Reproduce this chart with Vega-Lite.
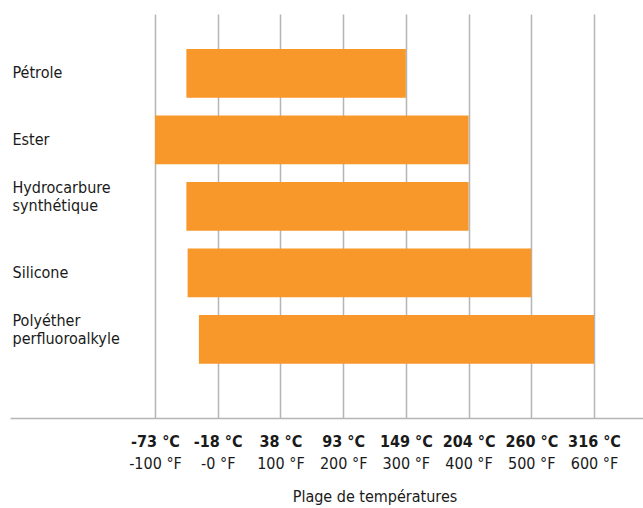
{
  "$schema": "https://vega.github.io/schema/vega-lite/v6.json",
  "width": 633,
  "height": 404,
  "autosize": "none",
  "padding": {"left": 10, "top": 14, "right": 0, "bottom": 90},
  "background": "white",
  "config": {
    "view": {"stroke": null},
    "font": "'DejaVu Sans Condensed', Roboto, sans-serif",
    "axis": {"labelFont": "'DejaVu Sans Condensed', Roboto, sans-serif", "titleFont": "'DejaVu Sans Condensed', Roboto, sans-serif"}
  },
  "data": {
    "values": [
      {"lubrifiant": "Pétrole", "min_f": -50, "max_f": 300},
      {"lubrifiant": "Ester", "min_f": -100, "max_f": 400},
      {"lubrifiant": "Hydrocarbure synthétique", "min_f": -50, "max_f": 400},
      {"lubrifiant": "Silicone", "min_f": -48, "max_f": 500},
      {"lubrifiant": "Polyéther perfluoroalkyle", "min_f": -30, "max_f": 600}
    ]
  },
  "encoding": {
    "y": {
      "field": "lubrifiant",
      "type": "nominal",
      "sort": null,
      "scale": {"paddingInner": 0.268, "paddingOuter": 0.672, "align": 0.392},
      "axis": {
        "title": null,
        "orient": "left",
        "domain": false,
        "ticks": false,
        "tickSize": 0,
        "grid": false,
        "labelAlign": "left",
        "labelBaseline": "middle",
        "labelPadding": -2,
        "labelFontSize": 16,
        "labelColor": "#1a1a1a",
        "labelLineHeight": 18,
        "labelLimit": 0,
        "labelExpr": "split(datum.label, ' ')",
        "labelOffset": {"condition": {"test": "indexof(datum.value, ' ') >= 0", "value": -18}, "value": 0}
      }
    }
  },
  "layer": [
    {
      "mark": {"type": "bar", "color": "#F8972A"},
      "encoding": {
        "x": {
          "field": "min_f",
          "type": "quantitative",
          "scale": {"domain": [-331.2, 678.1], "nice": false, "zero": false},
          "axis": {
            "values": [-100, 0, 100, 200, 300, 400, 500, 600],
            "orient": "bottom",
            "title": null,
            "grid": true,
            "gridColor": "#b5b5b5",
            "gridWidth": 1.5,
            "domain": true,
            "domainColor": "#b5b5b5",
            "domainWidth": 1.5,
            "ticks": false,
            "tickSize": 0,
            "labelExpr": "'' + round((datum.value - 32) * 5 / 9) + ' °C'",
            "labelFontWeight": "bold",
            "labelFontSize": 16,
            "labelColor": "#1a1a1a",
            "labelPadding": 15,
            "labelBaseline": "top",
            "labelFlush": false,
            "labelOverlap": false
          }
        },
        "x2": {"field": "max_f"}
      }
    },
    {
      "mark": {"type": "bar", "opacity": 0},
      "encoding": {
        "x": {
          "field": "min_f",
          "type": "quantitative",
          "scale": {"domain": [-331.2, 678.1], "nice": false, "zero": false},
          "axis": {
            "values": [-100, 0, 100, 200, 300, 400, 500, 600],
            "orient": "bottom",
            "grid": false,
            "domain": false,
            "ticks": false,
            "tickSize": 0,
            "labelExpr": "(datum.value == 0 ? '-0' : '' + datum.value) + ' °F'",
            "labelFontSize": 16,
            "labelColor": "#1a1a1a",
            "labelPadding": 37,
            "labelBaseline": "top",
            "labelFlush": false,
            "labelOverlap": false,
            "title": "Plage de températures",
            "titleFontWeight": "normal",
            "titleFontSize": 16,
            "titleColor": "#1a1a1a",
            "titleX": 364.5,
            "titleAlign": "center",
            "titlePadding": 17
          }
        },
        "x2": {"field": "max_f"}
      }
    }
  ],
  "resolve": {"scale": {"x": "independent"}, "axis": {"x": "independent"}}
}
